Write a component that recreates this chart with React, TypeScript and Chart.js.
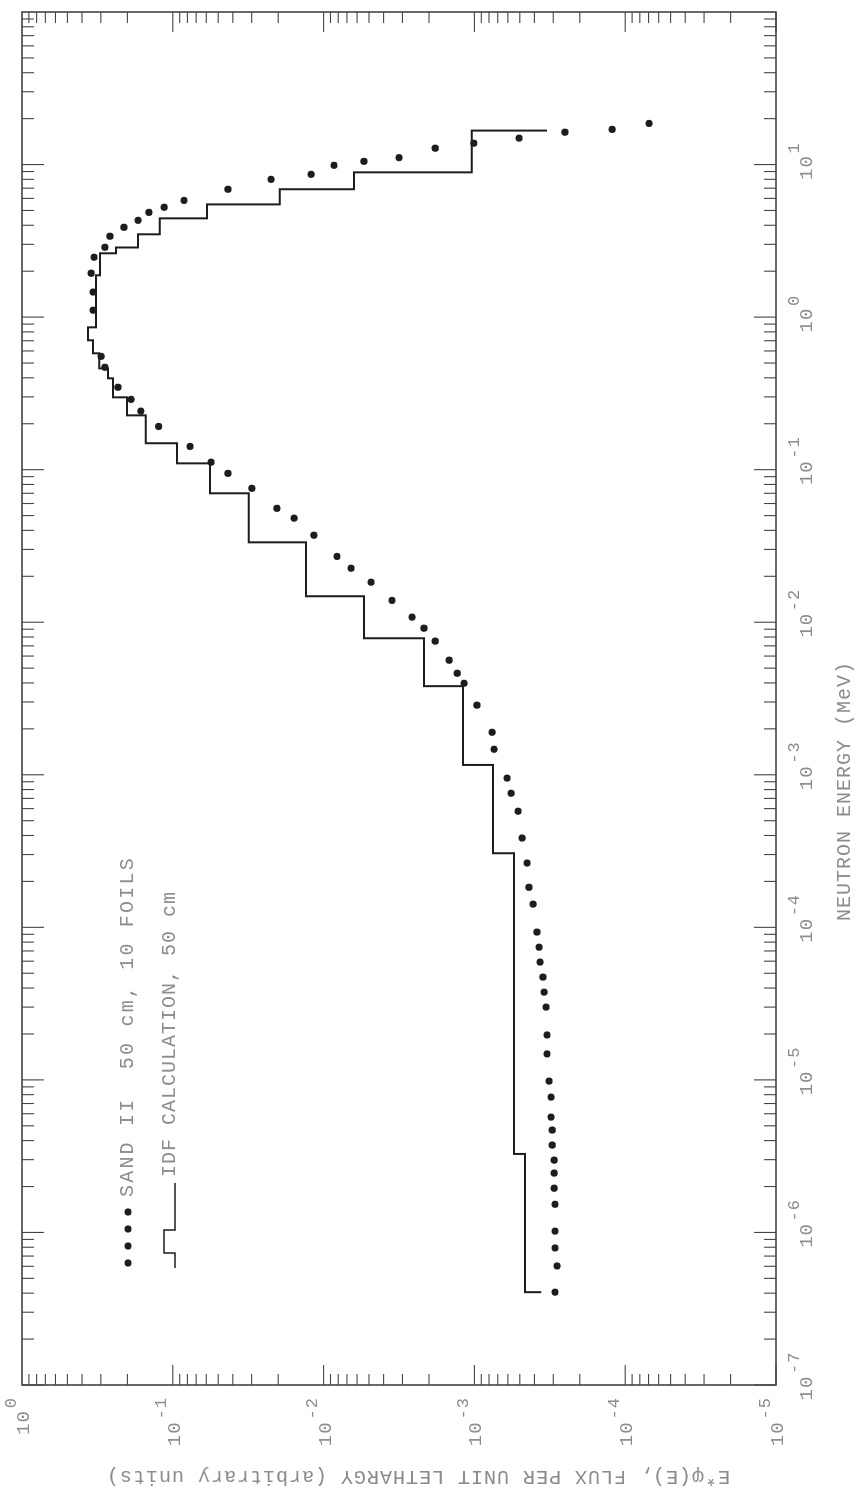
import React, { useEffect, useRef } from "react";
import { Chart, registerables } from "chart.js";

Chart.register(...registerables);

// Landscape drawing size (the page shows it rotated 90° counter-clockwise)
const W = 1501;
const H = 866;

// SAND II unfolded spectrum, 50 cm, 10 foils: energy (MeV) and E*phi(E)
const sandEnergy = [
  18.6, 17.0, 16.3, 14.9, 13.8, 12.8, 11.1, 10.5, 9.89, 8.63,
  8.0, 6.89, 5.82, 5.25, 4.86, 4.31, 3.88, 3.39, 2.87, 2.47,
  1.94, 1.46, 1.11, 0.553, 0.469, 0.347, 0.289, 0.242, 0.192, 0.142,
  0.112, 0.0946, 0.0755, 0.0558, 0.0481, 0.0372, 0.027, 0.0226, 0.0183, 0.0139,
  0.0108, 0.00914, 0.00752, 0.00564, 0.00463, 0.00398, 0.00286, 0.0019, 0.00147, 9.51e-4,
  7.57e-4, 5.77e-4, 3.85e-4, 2.64e-4, 1.83e-4, 1.42e-4, 9.31e-5, 7.41e-5, 5.92e-5, 4.72e-5,
  3.76e-5, 3.0e-5, 1.97e-5, 1.48e-5, 9.82e-6, 7.71e-6, 5.7e-6, 4.69e-6, 3.74e-6, 2.98e-6,
  2.45e-6, 1.95e-6, 1.53e-6, 1.02e-6, 7.91e-7, 6.03e-7, 4.06e-7,
];
const sandFlux = [
  6.95e-5, 1.22e-4, 2.51e-4, 5.06e-4, 1.01e-3, 1.82e-3, 3.16e-3, 5.4e-3, 8.53e-3, 0.0121,
  0.0223, 0.0431, 0.0843, 0.114, 0.144, 0.17, 0.211, 0.261, 0.282, 0.333,
  0.348, 0.338, 0.338, 0.299, 0.282, 0.231, 0.189, 0.163, 0.124, 0.0769,
  0.0558, 0.0431, 0.0299, 0.0204, 0.0157, 0.0116, 8.15e-3, 6.58e-3, 4.85e-3, 3.52e-3,
  2.59e-3, 2.16e-3, 1.82e-3, 1.47e-3, 1.3e-3, 1.17e-3, 9.62e-4, 7.64e-4, 7.41e-4, 6.08e-4,
  5.71e-4, 5.14e-4, 4.83e-4, 4.48e-4, 4.35e-4, 4.08e-4, 3.85e-4, 3.73e-4, 3.67e-4, 3.51e-4,
  3.45e-4, 3.35e-4, 3.3e-4, 3.3e-4, 3.2e-4, 3.1e-4, 3.1e-4, 3.05e-4, 3.05e-4, 2.96e-4,
  2.96e-4, 2.96e-4, 2.92e-4, 2.92e-4, 2.92e-4, 2.83e-4, 2.92e-4,
];

// IDF calculation, 50 cm: group edges (MeV) and group values
const idfEdges = [
  4.06e-7, 3.27e-6, 3.06e-4, 1.16e-3, 3.81e-3, 7.85e-3, 0.0148, 0.0334, 0.07, 0.11,
  0.149, 0.227, 0.298, 0.397, 0.461, 0.579, 0.705, 0.857, 1.88, 2.62,
  2.86, 3.49, 4.44, 5.48, 6.89, 8.89, 12.2, 16.7,
];
const idfFlux = [
  3.61e-4, 4.61e-4, 5.46e-4, 7.53e-4, 1.19e-3, 2.16e-3, 5.4e-3, 0.0131, 0.0313, 0.0566,
  0.0938, 0.151, 0.201, 0.249, 0.269, 0.308, 0.338, 0.365, 0.323, 0.304,
  0.238, 0.17, 0.122, 0.0593, 0.0195, 6.28e-3, 1.04e-3,
];
const idfCutoff = 3.3e-4;

// Axis decades and labels
const energyDecades = [-7, -6, -5, -4, -3, -2, -1, 0, 1];
const fluxDecades = [0, -1, -2, -3, -4, -5];
const energyTitle = "NEUTRON ENERGY (MeV)";
const fluxTitle = "E*\u03c6(E), FLUX PER UNIT LETHARGY (arbitrary units)";
const legendSand = "SAND II  50 cm, 10 FOILS";
const legendIdf = "IDF CALCULATION, 50 cm";

const INK = "#1d1d1d";
const TEXT = "#8c8c8c";
const FONT = '"Liberation Mono", "DejaVu Sans Mono", monospace';

function setFont(ctx: CanvasRenderingContext2D, size: number, spacing = 1) {
  ctx.font = `${size}px ${FONT}`;
  (ctx as any).letterSpacing = `${spacing}px`;
}

function seg(ctx: CanvasRenderingContext2D, x1: number, y1: number, x2: number, y2: number) {
  ctx.beginPath();
  ctx.moveTo(x1, y1);
  ctx.lineTo(x2, y2);
  ctx.stroke();
}

const decorPlugin = {
  id: "decor",
  beforeDatasetsDraw(chart: any) {
    const { ctx, chartArea: a, scales } = chart;
    const xs = scales.x;
    const ys = scales.y;
    ctx.save();
    ctx.strokeStyle = "#2a2a2a";
    ctx.lineWidth = 1.4;
    ctx.strokeRect(a.left, a.top, a.right - a.left, a.bottom - a.top);
    ctx.lineWidth = 1.1;
    ctx.strokeStyle = "#444444";
    for (let d = -7; d < 2; d++) {
      for (let k = 1; k <= 9; k++) {
        const px = xs.getPixelForValue(k * Math.pow(10, d));
        const L = k === 1 ? 22 : 12;
        seg(ctx, px, a.top, px, a.top + L);
        seg(ctx, px, a.bottom, px, a.bottom - L);
      }
    }
    for (let d = -5; d < 0; d++) {
      for (let k = 1; k <= 9; k++) {
        const py = ys.getPixelForValue(k * Math.pow(10, d));
        const L = k === 1 ? 20 : 11;
        seg(ctx, a.left, py, a.left + L, py);
        seg(ctx, a.right, py, a.right - L, py);
      }
    }
    ctx.restore();
  },
  afterDatasetsDraw(chart: any) {
    const { ctx, chartArea: a, scales } = chart;
    const xs = scales.x;
    const ys = scales.y;
    ctx.save();
    ctx.fillStyle = TEXT;

    // energy tick labels (below the frame in landscape)
    energyDecades.forEach((d) => {
      const px = xs.getPixelForValue(Math.pow(10, d));
      setFont(ctx, 19, 1);
      ctx.textAlign = "center";
      ctx.textBaseline = "middle";
      ctx.fillText("10", px - 3, a.bottom + 31);
      setFont(ctx, 17, 1);
      ctx.textAlign = "left";
      ctx.fillText(String(d), px + 11, a.bottom + 18);
    });

    // flux tick labels (left of the frame in landscape)
    fluxDecades.forEach((d) => {
      const py = ys.getPixelForValue(Math.pow(10, d));
      const right = a.left - 12;
      setFont(ctx, 17, 1);
      const ew = ctx.measureText(String(d)).width;
      ctx.textAlign = "right";
      ctx.textBaseline = "middle";
      ctx.fillText(String(d), right, py - 11);
      setFont(ctx, 19, 1);
      ctx.fillText("10", right - ew - 2, py + 2);
    });

    // axis titles
    setFont(ctx, 20, 1);
    ctx.textAlign = "center";
    ctx.textBaseline = "middle";
    ctx.fillText(energyTitle, 710, a.bottom + 69);
    ctx.save();
    ctx.translate(25, (a.top + a.bottom) / 2 + 19);
    ctx.rotate(-Math.PI / 2);
    ctx.fillText(fluxTitle, 0, 0);
    ctx.restore();

    // legend
    const v1 = 128;
    const v2 = 170;
    ctx.fillStyle = INK;
    [238, 255, 272, 289].forEach((u) => {
      ctx.beginPath();
      ctx.arc(u, v1, 3.6, 0, Math.PI * 2);
      ctx.fill();
    });
    ctx.strokeStyle = INK;
    ctx.lineWidth = 1.5;
    ctx.beginPath();
    ctx.moveTo(233, v2 + 5);
    ctx.lineTo(248, v2 + 5);
    ctx.lineTo(248, v2 - 6);
    ctx.lineTo(271, v2 - 6);
    ctx.lineTo(271, v2 + 5);
    ctx.lineTo(318, v2 + 5);
    ctx.stroke();
    ctx.fillStyle = TEXT;
    ctx.textAlign = "left";
    ctx.textBaseline = "middle";
    setFont(ctx, 20, 2.2);
    ctx.fillText(legendSand, 304, v1);
    setFont(ctx, 20, 1);
    ctx.fillText(legendIdf, 324, v2);
    ctx.restore();
  },
};

export default function App() {
  const ref = useRef<HTMLCanvasElement>(null);

  useEffect(() => {
    if (!ref.current) return;
    const stepData = idfFlux.map((v, i) => ({ x: idfEdges[i], y: v }));
    stepData.push({ x: idfEdges[idfEdges.length - 1], y: idfFlux[idfFlux.length - 1] });
    stepData.push({ x: idfEdges[idfEdges.length - 1], y: idfCutoff });

    const chart = new Chart(ref.current, {
      type: "scatter",
      data: {
        datasets: [
          {
            label: legendSand,
            data: sandEnergy.map((e, i) => ({ x: e, y: sandFlux[i] })),
            pointRadius: 3.6,
            pointBackgroundColor: INK,
            pointBorderWidth: 0,
            showLine: false,
          } as any,
          {
            type: "line",
            label: legendIdf,
            data: stepData,
            stepped: "after",
            showLine: true,
            borderColor: INK,
            borderWidth: 2,
            pointRadius: 0,
            fill: false,
          } as any,
        ],
      },
      options: {
        animation: false,
        responsive: false,
        events: [],
        layout: { padding: { left: 116, right: 12, top: 22, bottom: 90 } },
        plugins: { legend: { display: false }, tooltip: { enabled: false } },
        scales: {
          x: { type: "logarithmic", min: 1e-7, max: 100, display: false },
          y: { type: "logarithmic", min: 1e-5, max: 1, display: false },
        },
      },
      plugins: [decorPlugin],
    });
    return () => chart.destroy();
  }, []);

  return (
    <div
      style={{
        position: "fixed",
        left: 0,
        top: 0,
        width: 866,
        height: 1501,
        overflow: "hidden",
        background: "#ffffff",
      }}
    >
      <div
        style={{
          position: "absolute",
          left: 0,
          top: 0,
          width: W,
          height: H,
          transformOrigin: "0 0",
          transform: `translate(0px, ${W}px) rotate(-90deg)`,
        }}
      >
        <canvas ref={ref} width={W} height={H} style={{ display: "block", width: W, height: H }} />
      </div>
    </div>
  );
}
